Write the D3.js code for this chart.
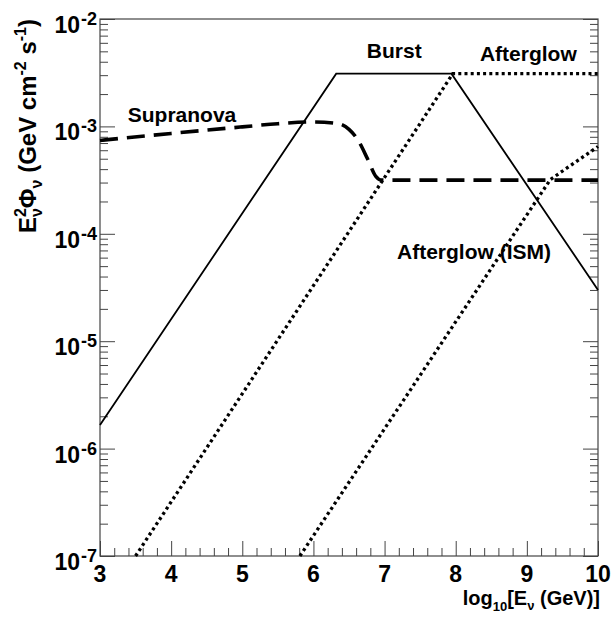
<!DOCTYPE html>
<html>
<head>
<meta charset="utf-8">
<script src="https://cdnjs.cloudflare.com/ajax/libs/d3/7.8.5/d3.min.js"></script>
<style>
  body { margin: 0; background: #fff; }
  text { font-family: "Liberation Sans", Arial, sans-serif; font-weight: bold; fill: #000; }
</style>
</head>
<body>
<script>
// neutrino flux models, x = log10(E/GeV), y = E^2 Phi in GeV cm^-2 s^-1
const burstX = [3, 6.32, 7.94, 10];
const burstY = [1.66e-6, 3.1e-3, 3.1e-3, 3.0e-5];

const afterglowX = [3.5, 7.96, 10];
const afterglowY = [1e-7, 3.1e-3, 3.1e-3];

const ismX = [5.81, 9.33, 10];
const ismY = [1e-7, 3.2e-4, 6.5e-4];

const supranovaX = [3, 4, 5, 5.5, 6, 6.35, 6.5, 6.63, 6.76, 6.88, 6.95, 7.1, 10];
const supranovaY = [7.4e-4, 8.6e-4, 9.9e-4, 1.06e-3, 1.1e-3, 1.06e-3, 9.4e-4, 7.4e-4, 5.0e-4, 3.4e-4, 3.16e-4, 3.16e-4, 3.16e-4];

const xMajorTicks = [3, 4, 5, 6, 7, 8, 9, 10];
const yMajorTicks = [1e-7, 1e-6, 1e-5, 1e-4, 1e-3, 1e-2];
const yExponents = ["-7", "-6", "-5", "-4", "-3", "-2"];

let margin = null, width = null, height = null;
let svg = null;
let x, y = null;

setupCanvasSize();
appendSvg("body");
setupScales();
appendAxes();
appendCurves();
appendLabels();

function setupCanvasSize() {
  margin = {top: 19, left: 100, bottom: 65, right: 15};
  width = 613 - margin.left - margin.right;
  height = 621 - margin.top - margin.bottom;
}

function appendSvg(domElement) {
  svg = d3.select(domElement).append("svg")
    .attr("width", 613)
    .attr("height", 621)
    .append("g")
    .attr("transform", `translate(${margin.left}, ${margin.top})`);
}

function setupScales() {
  x = d3.scaleLinear().domain([3, 10]).range([0, width]);
  y = d3.scaleLog().domain([1e-7, 1e-2]).range([height, 0]);
}

function styleTicks(g) {
  g.select(".domain").remove();
  g.selectAll("line").attr("stroke", "#444").attr("stroke-width", 1);
  g.selectAll("text").remove();
}

function appendAxes() {
  // minor ticks: 0.2 steps on x, 2..9 per decade on y
  const xMinor = d3.range(3, 10.001, 0.2).filter(v => Math.abs(v - Math.round(v)) > 0.01);
  const yMinor = y.ticks().filter(v => !yMajorTicks.some(m => Math.abs(v / m - 1) < 1e-6));

  svg.append("g").attr("transform", `translate(0, ${height})`)
    .call(d3.axisBottom(x).tickValues(xMajorTicks).tickSizeInner(-15).tickSizeOuter(0))
    .call(styleTicks);
  svg.append("g").attr("transform", `translate(0, ${height})`)
    .call(d3.axisBottom(x).tickValues(xMinor).tickSizeInner(-8).tickSizeOuter(0))
    .call(styleTicks);

  [[d3.axisLeft, 0], [d3.axisRight, width]].forEach(([axis, tx]) => {
    svg.append("g").attr("transform", `translate(${tx}, 0)`)
      .call(axis(y).tickValues(yMajorTicks).tickSizeInner(-15).tickSizeOuter(0))
      .call(styleTicks);
    svg.append("g").attr("transform", `translate(${tx}, 0)`)
      .call(axis(y).tickValues(yMinor).tickSizeInner(-8).tickSizeOuter(0))
      .call(styleTicks);
  });

  // frame
  svg.append("rect")
    .attr("width", width).attr("height", height)
    .attr("fill", "none").attr("stroke", "#444").attr("stroke-width", 1.2);

  // x tick labels
  svg.selectAll(".xlab").data(xMajorTicks).enter().append("text")
    .attr("x", d => x(d)).attr("y", height + 26)
    .attr("text-anchor", "middle").style("font-size", "23px")
    .text(d => d);

  // y tick labels 10^n
  const ylab = svg.selectAll(".ylab").data(yMajorTicks).enter().append("text")
    .attr("x", -3).attr("y", d => y(d) + 14)
    .attr("text-anchor", "end").style("font-size", "23px");
  ylab.append("tspan").text("10");
  ylab.append("tspan").attr("dx", 1).attr("dy", -8).style("font-size", "18px").text((d, i) => yExponents[i]);

  // x title
  const xt = svg.append("text")
    .attr("x", width + 2).attr("y", height + 49)
    .attr("text-anchor", "end").style("font-size", "20px");
  xt.append("tspan").text("log");
  xt.append("tspan").attr("dy", 6).style("font-size", "13px").text("10");
  xt.append("tspan").attr("dy", -6).text("[E");
  xt.append("tspan").attr("dy", 5).style("font-size", "13px").text("ν");
  xt.append("tspan").attr("dy", -5).text(" (GeV)]");

  // y title
  const yt = svg.append("text")
    .attr("transform", `translate(${36 - margin.left}, 0) rotate(-90)`)
    .attr("text-anchor", "end").style("font-size", "24px");
  yt.append("tspan").text("E");
  yt.append("tspan").attr("dy", -10).style("font-size", "16px").text("2");
  yt.append("tspan").attr("dx", -9).attr("dy", 16).style("font-size", "16px").text("ν");
  yt.append("tspan").attr("dy", -6).text("Φ");
  yt.append("tspan").attr("dy", 6).style("font-size", "16px").text("ν");
  yt.append("tspan").attr("dy", -6).text(" (GeV cm");
  yt.append("tspan").attr("dy", -10).style("font-size", "16px").text("-2");
  yt.append("tspan").attr("dy", 10).text(" s");
  yt.append("tspan").attr("dy", -10).style("font-size", "16px").text("-1");
  yt.append("tspan").attr("dy", 10).text(")");
}

function appendCurve(xs, ys, dash, sw, curve) {
  const pts = xs.map((d, i) => [d, ys[i]]);
  const line = d3.line()
    .x(d => x(d[0]))
    .y(d => y(d[1]))
    .curve(curve || d3.curveLinear);
  svg.append("path")
    .datum(pts)
    .attr("d", line)
    .attr("fill", "none")
    .attr("stroke", "#000")
    .attr("stroke-width", sw)
    .attr("stroke-dasharray", dash);
}

function appendCurves() {
  appendCurve(burstX, burstY, null, 1.8);
  appendCurve(afterglowX, afterglowY, "3,3.2", 3.3);
  appendCurve(ismX, ismY, "3,3.2", 3.3);
  appendCurve(supranovaX, supranovaY, "18,9", 3.6, d3.curveMonotoneX);
}

function appendLabels() {
  const labels = [
    {text: "Supranova", x: 3.39, y: 1.1e-3},
    {text: "Burst", x: 6.75, y: 4.33e-3},
    {text: "Afterglow", x: 8.34, y: 4.06e-3},
    {text: "Afterglow (ISM)", x: 7.175, y: 5.82e-5}
  ];
  svg.selectAll(".lab").data(labels).enter().append("text")
    .attr("x", d => x(d.x)).attr("y", d => y(d.y))
    .style("font-size", "21px")
    .text(d => d.text);
}
</script>
</body>
</html>
